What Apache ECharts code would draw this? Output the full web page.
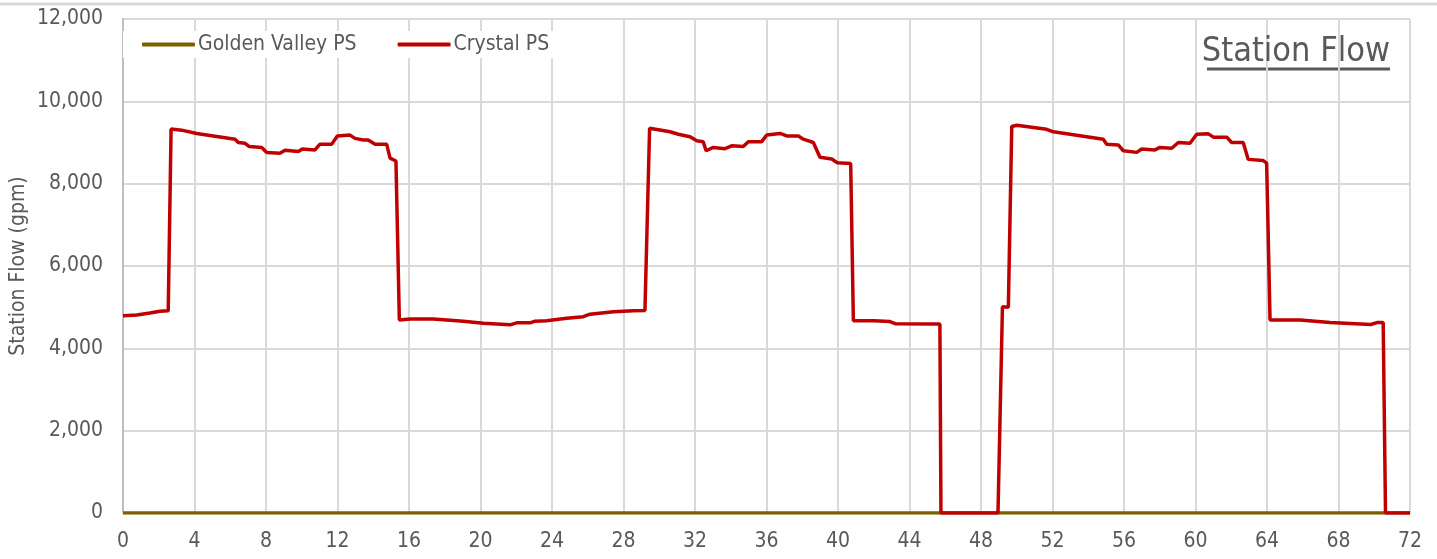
<!DOCTYPE html>
<html>
<head>
<meta charset="utf-8">
<script src="https://cdn.jsdelivr.net/npm/echarts@6/dist/echarts.min.js"></script>
<style>
    html, body { margin: 0; padding: 0; background: #fff; }
    #chart { width: 1437px; height: 559px; }
</style>
</head>
<body>
<div id="chart"></div>
<script>
// Series names
const seriesNames = ['Golden Valley PS', 'Crystal PS']

// Golden Valley PS stays at zero the whole period
const goldenHours = [0, 24, 48, 72]
const goldenFlow = [0, 0, 0, 0]

// Crystal PS (hours, gpm)
const crystalHours = [
    0, 0.77, 1.5, 2.07, 2.53, 2.69, 3.28, 4.12, 6.27, 6.45,
    6.83, 7.07, 7.76, 8.04, 8.78, 9.06, 9.81, 10.03, 10.74, 11.02,
    11.68, 11.99, 12.7, 12.98, 13.44, 13.72, 14.1, 14.75, 14.94, 15.27,
    15.46, 16.06, 17.34, 18.11, 19.04, 20.16, 21.65, 22.03, 22.77, 23.05,
    23.7, 24.82, 25.75, 26.13, 27.43, 28.55, 29.2, 29.46, 30.6, 31.07,
    31.72, 32.1, 32.46, 32.62, 33.02, 33.68, 34.05, 34.7, 34.98, 35.73,
    36.01, 36.76, 37.13, 37.78, 38.06, 38.62, 38.99, 39.65, 39.96, 40.71,
    40.86, 42.0, 42.9, 43.2, 45.7, 45.76, 48.95, 49.2, 49.53, 49.72,
    50.0, 51.67, 52.05, 54.84, 55.03, 55.68, 55.96, 56.71, 56.99, 57.73,
    58.01, 58.67, 59.04, 59.69, 60.07, 60.72, 61.0, 61.75, 62.02, 62.67,
    62.95, 63.79, 63.98, 64.17, 65.85, 67.53, 69.8, 70.2, 70.5, 70.63,
    72
]
const crystalFlow = [
    4790, 4810, 4860, 4900, 4910, 9330, 9300, 9220, 9080, 9000,
    8980, 8900, 8880, 8760, 8740, 8810, 8780, 8840, 8820, 8960,
    8960, 9160, 9180, 9100, 9060, 9060, 8960, 8960, 8620, 8550,
    4690, 4710, 4710, 4690, 4660, 4610, 4570, 4620, 4620, 4660,
    4670, 4730, 4770, 4830, 4890, 4910, 4920, 9345, 9260, 9200,
    9140, 9040, 9020, 8800, 8880, 8850, 8920, 8900, 9020, 9020,
    9180, 9220, 9160, 9160, 9080, 9000, 8640, 8600, 8510, 8490,
    4670, 4670, 4650, 4600, 4590, 0, 0, 5010, 5000, 9390,
    9420, 9320, 9260, 9080, 8960, 8940, 8800, 8760, 8840, 8820,
    8880, 8860, 9000, 8980, 9200, 9210, 9130, 9130, 9000, 9000,
    8590, 8560, 8500, 4690, 4690, 4630, 4580, 4630, 4630, 0,
    0
]

const zip = (xs, ys) => xs.map((x, i) => [x, ys[i]])

const textColor = '#595959'
const gridColor = '#d9d9d9'
const fontFamily = '"Liberation Sans Narrow", "DejaVu Sans Condensed", "Liberation Sans", sans-serif'

const chart = echarts.init(document.getElementById('chart'))

const option = {
    animation: false,
    backgroundColor: '#fff',
    textStyle: { fontFamily: fontFamily },
    title: {
        text: 'Station Flow',
        right: 42,
        top: 30,
        textStyle: {
            fontFamily: fontFamily,
            fontSize: 34,
            fontWeight: 'normal',
            color: textColor
        }
    },
    graphic: [
        // frame line at the very top
        {
            type: 'line',
            shape: { x1: 0, y1: 4, x2: 1437, y2: 4 },
            style: { stroke: '#d9d9d9', lineWidth: 3 }
        },
        // title underline
        {
            type: 'line',
            shape: { x1: 1207, y1: 69, x2: 1390, y2: 69 },
            style: { stroke: textColor, lineWidth: 3 }
        }
    ],
    legend: {
        left: 123,
        top: 31,
        padding: [3, 20, 3, 19],
        backgroundColor: '#fff',
        icon: 'roundRect',
        itemWidth: 53,
        itemHeight: 4,
        itemGap: 41,
        data: seriesNames,
        textStyle: {
            fontFamily: fontFamily,
            fontSize: 21,
            color: textColor,
            padding: [0, 0, 0, -2]
        }
    },
    grid: {
        left: 123,
        right: 27,
        top: 19,
        bottom: 46,
        outerBoundsMode: 'none'
    },
    xAxis: {
        type: 'value',
        min: 0,
        max: 72,
        interval: 4,
        axisLine: { show: true, lineStyle: { color: gridColor, width: 2 } },
        axisTick: { show: false },
        axisLabel: {
            color: textColor,
            fontSize: 21,
            fontFamily: fontFamily,
            margin: 18
        },
        splitLine: { show: true, lineStyle: { color: gridColor, width: 2 } }
    },
    yAxis: {
        type: 'value',
        min: 0,
        max: 12000,
        interval: 2000,
        name: 'Station Flow (gpm)',
        nameLocation: 'middle',
        nameGap: 94,
        nameMoveOverlap: false,
        nameTextStyle: {
            color: textColor,
            fontSize: 21,
            fontFamily: fontFamily
        },
        axisLine: { show: true, lineStyle: { color: '#bfbfbf', width: 2 } },
        axisTick: { show: false },
        axisLabel: {
            color: textColor,
            fontSize: 21,
            fontFamily: fontFamily,
            margin: 20
        },
        splitLine: { show: true, lineStyle: { color: gridColor, width: 2 } }
    },
    series: [
        {
            name: seriesNames[0],
            type: 'line',
            data: zip(goldenHours, goldenFlow),
            symbol: 'none',
            lineStyle: { width: 3.5, color: '#7f6000' },
            itemStyle: { color: '#7f6000' }
        },
        {
            name: seriesNames[1],
            type: 'line',
            data: zip(crystalHours, crystalFlow),
            symbol: 'none',
            lineStyle: { width: 3.5, color: '#c00000' },
            itemStyle: { color: '#c00000' }
        }
    ]
}

chart.setOption(option)
window.addEventListener('resize', () => chart.resize())
</script>
</body>
</html>
